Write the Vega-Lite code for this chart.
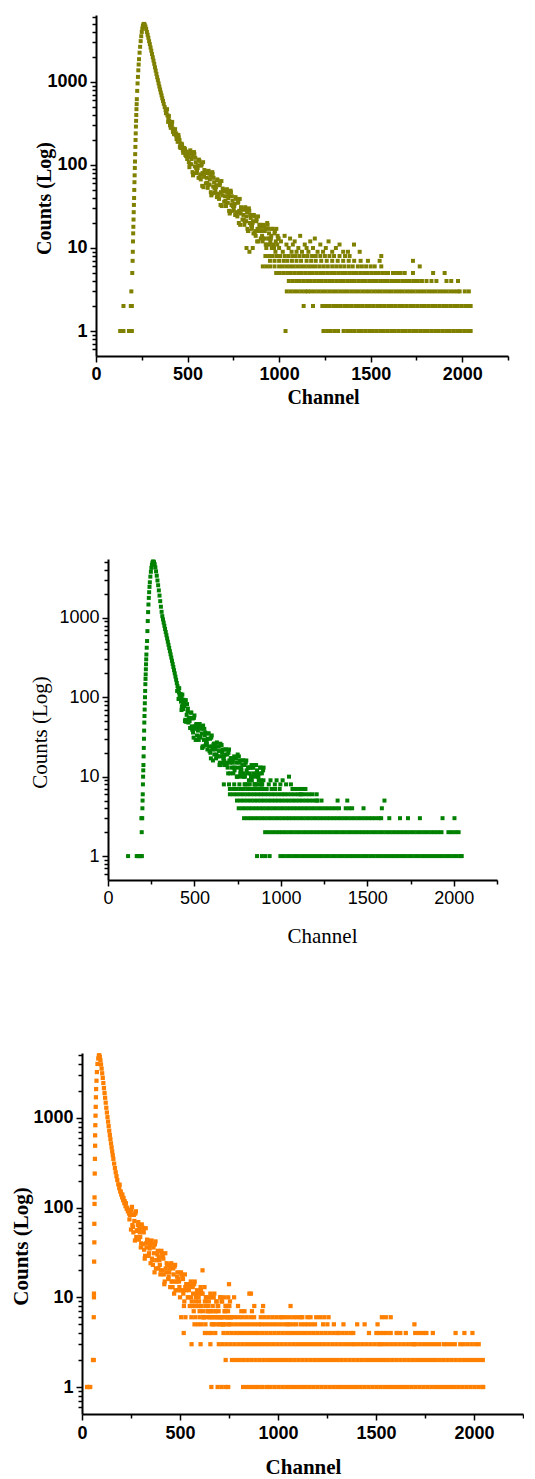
{
  "$schema": "https://vega.github.io/schema/vega-lite/v6.json",
  "background": "white",
  "padding": {"left": 0, "top": 8, "right": 0, "bottom": 0},
  "config": {
    "view": {"stroke": null},
    "axis": {
      "grid": false,
      "domainColor": "black",
      "domainWidth": 2,
      "tickColor": "black",
      "tickWidth": 1.5,
      "labelColor": "black",
      "titleColor": "black",
      "labelFont": "Liberation Sans",
      "titleFont": "Liberation Serif",
      "labelOverlap": false,
      "labelFlush": false,
      "labelBound": false
    }
  },
  "datasets": {
    "olive": [
      {"ch":132,"counts":1},{"ch":140,"counts":1},{"ch":150,"counts":1},{"ch":180,"counts":1},{"ch":188,"counts":1},{"ch":196,"counts":1},
      {"ch":150,"counts":2},{"ch":190,"counts":2},{"ch":196,"counts":2},{"ch":193,"counts":3},
      {"ch":198,"counts":5},{"ch":200,"counts":7},{"ch":201,"counts":9},{"ch":202,"counts":12},{"ch":203,"counts":15},{"ch":204,"counts":18},{"ch":205,"counts":22},{"ch":206,"counts":27},{"ch":207,"counts":33},{"ch":208,"counts":40},{"ch":209,"counts":50},{"ch":210,"counts":62},{"ch":211,"counts":75},{"ch":212,"counts":92},{"ch":213,"counts":110},{"ch":214,"counts":135},{"ch":215,"counts":165},{"ch":216,"counts":200},{"ch":217,"counts":240},{"ch":218,"counts":290},{"ch":219,"counts":340},{"ch":220,"counts":400},{"ch":221,"counts":470},{"ch":222,"counts":540},{"ch":223,"counts":620},{"ch":225,"counts":780},{"ch":227,"counts":960},{"ch":229,"counts":1150},{"ch":231,"counts":1380},{"ch":233,"counts":1620},{"ch":235,"counts":1880},{"ch":238,"counts":2250},{"ch":241,"counts":2650},{"ch":244,"counts":3100},{"ch":247,"counts":3550},{"ch":250,"counts":4000},{"ch":253,"counts":4400},{"ch":256,"counts":4750},{"ch":259,"counts":4950},
      {"ch":262,"counts":5000},{"ch":266,"counts":4900},{"ch":270,"counts":4650},{"ch":274,"counts":4350},{"ch":278,"counts":4000},{"ch":282,"counts":3700},{"ch":286,"counts":3400},{"ch":290,"counts":3100},{"ch":294,"counts":2850},{"ch":298,"counts":2600},{"ch":302,"counts":2380},{"ch":306,"counts":2170},{"ch":310,"counts":1980},{"ch":314,"counts":1810},{"ch":318,"counts":1650},{"ch":322,"counts":1500},{"ch":326,"counts":1370},{"ch":330,"counts":1250},{"ch":334,"counts":1140},{"ch":338,"counts":1050},{"ch":342,"counts":960},{"ch":346,"counts":880},{"ch":350,"counts":810},{"ch":354,"counts":745},{"ch":358,"counts":690},{"ch":362,"counts":635},{"ch":366,"counts":590},{"ch":370,"counts":545},{"ch":375,"counts":500},{"ch":380,"counts":460},{"ch":385,"counts":425},{"ch":390,"counts":395},{"ch":395,"counts":368},{"ch":400,"counts":342},{"ch":406,"counts":318},{"ch":412,"counts":296},{"ch":418,"counts":276},{"ch":424,"counts":258},{"ch":430,"counts":242},{"ch":436,"counts":228},{"ch":442,"counts":214},{"ch":448,"counts":202},{"ch":454,"counts":191},{"ch":460,"counts":180},{"ch":466,"counts":171},{"ch":472,"counts":162},{"ch":478,"counts":154},{"ch":484,"counts":146},{"ch":490,"counts":139},{"ch":496,"counts":132},{"ch":502,"counts":126},
      {"ch":404,"counts":300},{"ch":414,"counts":310},{"ch":426,"counts":235},{"ch":438,"counts":240},{"ch":446,"counts":190},{"ch":452,"counts":215},{"ch":458,"counts":165},{"ch":468,"counts":180},{"ch":474,"counts":150},{"ch":482,"counts":160},{"ch":488,"counts":132},{"ch":494,"counts":145},{"ch":498,"counts":118},
      {"ch":382,"counts":420},{"ch":388,"counts":470},{"ch":394,"counts":330},{"ch":398,"counts":390},{"ch":408,"counts":280},{"ch":416,"counts":330},{"ch":420,"counts":250},{"ch":432,"counts":270},{"ch":440,"counts":205},{"ch":450,"counts":230},{"ch":456,"counts":200},{"ch":462,"counts":160},{"ch":470,"counts":175},{"ch":476,"counts":140},{"ch":486,"counts":155},{"ch":492,"counts":128},{"ch":500,"counts":140},
      {"ch":505,"counts":124},{"ch":510,"counts":94},{"ch":515,"counts":150},{"ch":520,"counts":102},{"ch":525,"counts":130},{"ch":530,"counts":75},{"ch":535,"counts":143},{"ch":540,"counts":96},{"ch":545,"counts":108},{"ch":550,"counts":80},{"ch":555,"counts":92},{"ch":560,"counts":70},{"ch":565,"counts":112},{"ch":570,"counts":77},{"ch":575,"counts":98},{"ch":580,"counts":56},{"ch":585,"counts":108},{"ch":590,"counts":72},{"ch":595,"counts":81},{"ch":600,"counts":60},{"ch":605,"counts":70},{"ch":610,"counts":53},{"ch":615,"counts":85},{"ch":620,"counts":58},{"ch":625,"counts":74},{"ch":630,"counts":43},{"ch":635,"counts":82},{"ch":640,"counts":55},{"ch":645,"counts":62},{"ch":650,"counts":46},{"ch":655,"counts":54},{"ch":660,"counts":41},{"ch":665,"counts":65},{"ch":670,"counts":45},{"ch":675,"counts":57},{"ch":680,"counts":33},{"ch":685,"counts":64},{"ch":690,"counts":43},{"ch":695,"counts":49},{"ch":700,"counts":36},{"ch":705,"counts":42},{"ch":710,"counts":32},{"ch":715,"counts":51},{"ch":720,"counts":35},{"ch":725,"counts":44},{"ch":730,"counts":26},{"ch":735,"counts":49},{"ch":740,"counts":33},{"ch":745,"counts":37},{"ch":750,"counts":28},{"ch":755,"counts":32},{"ch":760,"counts":25},{"ch":765,"counts":39},{"ch":770,"counts":27},{"ch":775,"counts":35},{"ch":780,"counts":20},{"ch":785,"counts":39},{"ch":790,"counts":26},{"ch":795,"counts":29},{"ch":800,"counts":22},{"ch":805,"counts":25},{"ch":810,"counts":19},{"ch":815,"counts":31},{"ch":820,"counts":21},{"ch":825,"counts":27},{"ch":830,"counts":16},{"ch":835,"counts":30},{"ch":840,"counts":20},{"ch":845,"counts":23},{"ch":850,"counts":17},{"ch":855,"counts":20},{"ch":860,"counts":15},{"ch":865,"counts":24},{"ch":870,"counts":16},{"ch":875,"counts":21},{"ch":880,"counts":12},{"ch":885,"counts":24},{"ch":890,"counts":16},{"ch":895,"counts":18},{"ch":900,"counts":13},{"ch":905,"counts":16},{"ch":910,"counts":12},{"ch":915,"counts":19},{"ch":920,"counts":13},{"ch":925,"counts":17},{"ch":930,"counts":10},{"ch":935,"counts":20},{"ch":940,"counts":13},{"ch":945,"counts":15},{"ch":950,"counts":11},{"ch":955,"counts":13},{"ch":960,"counts":10},{"ch":965,"counts":17},{"ch":970,"counts":11},{"ch":975,"counts":15},{"ch":980,"counts":9},{"ch":985,"counts":17},{"ch":990,"counts":11},{"ch":995,"counts":13},{"ch":1000,"counts":10},
      {"ch":502,"counts":142},{"ch":512,"counts":103},{"ch":522,"counts":118},{"ch":532,"counts":79},{"ch":542,"counts":122},{"ch":552,"counts":86},{"ch":562,"counts":116},{"ch":572,"counts":67},{"ch":582,"counts":80},{"ch":592,"counts":87},{"ch":602,"counts":80},{"ch":612,"counts":58},{"ch":622,"counts":67},{"ch":632,"counts":45},{"ch":642,"counts":70},{"ch":652,"counts":50},{"ch":662,"counts":67},{"ch":672,"counts":39},{"ch":682,"counts":47},{"ch":692,"counts":52},{"ch":702,"counts":48},{"ch":712,"counts":35},{"ch":722,"counts":40},{"ch":732,"counts":27},{"ch":742,"counts":42},{"ch":752,"counts":30},{"ch":762,"counts":41},{"ch":772,"counts":24},{"ch":782,"counts":28},{"ch":792,"counts":31},{"ch":802,"counts":29},{"ch":812,"counts":21},{"ch":822,"counts":24},{"ch":832,"counts":16},{"ch":842,"counts":25},{"ch":852,"counts":18},{"ch":862,"counts":25},{"ch":872,"counts":14},{"ch":882,"counts":17},{"ch":892,"counts":19},{"ch":902,"counts":18},{"ch":912,"counts":13},{"ch":922,"counts":16},{"ch":932,"counts":11},{"ch":942,"counts":17},{"ch":952,"counts":12},{"ch":962,"counts":17},{"ch":972,"counts":10},{"ch":982,"counts":12},{"ch":992,"counts":14},
      {"ch":507,"counts":108},{"ch":517,"counts":139},{"ch":527,"counts":82},{"ch":537,"counts":136},{"ch":547,"counts":92},{"ch":557,"counts":99},{"ch":567,"counts":71},{"ch":577,"counts":102},{"ch":587,"counts":54},{"ch":597,"counts":84},{"ch":607,"counts":61},{"ch":617,"counts":79},{"ch":627,"counts":47},{"ch":637,"counts":78},{"ch":647,"counts":53},{"ch":657,"counts":57},{"ch":667,"counts":41},{"ch":677,"counts":60},{"ch":687,"counts":32},{"ch":697,"counts":50},{"ch":707,"counts":37},{"ch":717,"counts":47},{"ch":727,"counts":28},{"ch":737,"counts":47},{"ch":747,"counts":32},{"ch":757,"counts":34},{"ch":767,"counts":25},{"ch":777,"counts":36},{"ch":787,"counts":19},{"ch":797,"counts":30},{"ch":807,"counts":22},{"ch":817,"counts":29},{"ch":827,"counts":17},{"ch":837,"counts":28},{"ch":847,"counts":19},{"ch":857,"counts":21},{"ch":867,"counts":15},{"ch":877,"counts":22},{"ch":887,"counts":12},{"ch":897,"counts":19},{"ch":907,"counts":14},{"ch":917,"counts":18},{"ch":927,"counts":11},{"ch":937,"counts":19},{"ch":947,"counts":13},{"ch":957,"counts":14},{"ch":967,"counts":10},{"ch":977,"counts":16},{"ch":987,"counts":8},{"ch":997,"counts":13},
      {"ch":822,"counts":10},{"ch":838,"counts":9},{"ch":856,"counts":10},
      {"ch":1010,"counts":12},{"ch":1020,"counts":9},{"ch":1030,"counts":14},{"ch":1040,"counts":11},{"ch":1052,"counts":10},{"ch":1060,"counts":13},{"ch":1068,"counts":9},{"ch":1075,"counts":11},{"ch":1085,"counts":12},{"ch":1095,"counts":9},{"ch":1105,"counts":10},{"ch":1115,"counts":14},{"ch":1125,"counts":9},{"ch":1140,"counts":11},{"ch":1150,"counts":10},{"ch":1160,"counts":9},{"ch":1170,"counts":12},{"ch":1185,"counts":10},{"ch":1195,"counts":13},{"ch":1210,"counts":9},{"ch":1225,"counts":11},{"ch":1240,"counts":9},{"ch":1255,"counts":10},{"ch":1270,"counts":12},{"ch":1290,"counts":9},{"ch":1310,"counts":10},{"ch":1330,"counts":11},{"ch":1350,"counts":9},{"ch":1376,"counts":9},{"ch":1409,"counts":11},{"ch":1440,"counts":9},
      {"ch":925,"counts":8},{"ch":945,"counts":8},{"ch":962,"counts":8},{"ch":985,"counts":8},{"ch":1005,"counts":8},{"ch":1030,"counts":8},{"ch":1050,"counts":8},{"ch":1072,"counts":8},{"ch":1090,"counts":8},{"ch":1112,"counts":8},{"ch":1135,"counts":8},{"ch":1155,"counts":8},{"ch":1180,"counts":8},{"ch":1200,"counts":8},{"ch":1225,"counts":8},{"ch":1250,"counts":8},{"ch":1275,"counts":8},{"ch":1300,"counts":8},{"ch":1330,"counts":8},{"ch":1360,"counts":8},{"ch":1385,"counts":8},{"ch":1558,"counts":8},
      {"ch":950,"counts":7},{"ch":975,"counts":7},{"ch":1000,"counts":7},{"ch":1025,"counts":7},{"ch":1045,"counts":7},{"ch":1070,"counts":7},{"ch":1095,"counts":7},{"ch":1120,"counts":7},{"ch":1150,"counts":7},{"ch":1175,"counts":7},{"ch":1200,"counts":7},{"ch":1230,"counts":7},{"ch":1260,"counts":7},{"ch":1290,"counts":7},{"ch":1320,"counts":7},{"ch":1350,"counts":7},{"ch":1380,"counts":7},{"ch":1410,"counts":7},{"ch":1445,"counts":7},{"ch":1485,"counts":7},{"ch":1549,"counts":7},{"ch":1731,"counts":7},
      {"ch":911,"counts":6},{"ch":931,"counts":6},{"ch":951,"counts":6},{"ch":975,"counts":6},{"ch":1000,"counts":6},{"ch":1020,"counts":6},{"ch":1040,"counts":6},{"ch":1060,"counts":6},{"ch":1080,"counts":6},{"ch":1100,"counts":6},{"ch":1120,"counts":6},{"ch":1140,"counts":6},{"ch":1160,"counts":6},{"ch":1180,"counts":6},{"ch":1200,"counts":6},{"ch":1222,"counts":6},{"ch":1244,"counts":6},{"ch":1266,"counts":6},{"ch":1290,"counts":6},{"ch":1312,"counts":6},{"ch":1334,"counts":6},{"ch":1356,"counts":6},{"ch":1380,"counts":6},{"ch":1402,"counts":6},{"ch":1430,"counts":6},{"ch":1452,"counts":6},{"ch":1475,"counts":6},{"ch":1500,"counts":6},{"ch":1522,"counts":6},{"ch":1558,"counts":6},{"ch":1768,"counts":6},
      {"ch":984,"counts":5},{"ch":1004,"counts":5},{"ch":1024,"counts":5},{"ch":1044,"counts":5},{"ch":1064,"counts":5},{"ch":1084,"counts":5},{"ch":1104,"counts":5},{"ch":1124,"counts":5},{"ch":1144,"counts":5},{"ch":1164,"counts":5},{"ch":1184,"counts":5},{"ch":1204,"counts":5},{"ch":1224,"counts":5},{"ch":1244,"counts":5},{"ch":1264,"counts":5},{"ch":1284,"counts":5},{"ch":1304,"counts":5},{"ch":1324,"counts":5},{"ch":1344,"counts":5},{"ch":1364,"counts":5},{"ch":1384,"counts":5},{"ch":1404,"counts":5},{"ch":1424,"counts":5},{"ch":1444,"counts":5},{"ch":1464,"counts":5},{"ch":1484,"counts":5},{"ch":1504,"counts":5},{"ch":1524,"counts":5},{"ch":1544,"counts":5},{"ch":1564,"counts":5},{"ch":1584,"counts":5},{"ch":1595,"counts":5},{"ch":1622,"counts":5},{"ch":1644,"counts":5},{"ch":1664,"counts":5},{"ch":1686,"counts":5},{"ch":1731,"counts":5},{"ch":1841,"counts":5},{"ch":1904,"counts":5},
      {"ch":1053,"counts":4},{"ch":1073,"counts":4},{"ch":1093,"counts":4},{"ch":1113,"counts":4},{"ch":1133,"counts":4},{"ch":1153,"counts":4},{"ch":1173,"counts":4},{"ch":1193,"counts":4},{"ch":1213,"counts":4},{"ch":1233,"counts":4},{"ch":1253,"counts":4},{"ch":1273,"counts":4},{"ch":1293,"counts":4},{"ch":1313,"counts":4},{"ch":1333,"counts":4},{"ch":1353,"counts":4},{"ch":1373,"counts":4},{"ch":1393,"counts":4},{"ch":1413,"counts":4},{"ch":1433,"counts":4},{"ch":1453,"counts":4},{"ch":1473,"counts":4},{"ch":1493,"counts":4},{"ch":1513,"counts":4},{"ch":1533,"counts":4},{"ch":1553,"counts":4},{"ch":1573,"counts":4},{"ch":1593,"counts":4},{"ch":1613,"counts":4},{"ch":1633,"counts":4},{"ch":1653,"counts":4},{"ch":1673,"counts":4},{"ch":1693,"counts":4},{"ch":1713,"counts":4},{"ch":1733,"counts":4},{"ch":1740,"counts":4},{"ch":1758,"counts":4},{"ch":1780,"counts":4},{"ch":1805,"counts":4},{"ch":1832,"counts":4},{"ch":1859,"counts":4},{"ch":1914,"counts":4},{"ch":1940,"counts":4},{"ch":1977,"counts":4},
      {"ch":1042,"counts":3},{"ch":1062,"counts":3},{"ch":1082,"counts":3},{"ch":1102,"counts":3},{"ch":1122,"counts":3},{"ch":1142,"counts":3},{"ch":1157,"counts":3},{"ch":1175,"counts":3},{"ch":1195,"counts":3},{"ch":1215,"counts":3},{"ch":1235,"counts":3},{"ch":1255,"counts":3},{"ch":1275,"counts":3},{"ch":1295,"counts":3},{"ch":1315,"counts":3},{"ch":1335,"counts":3},{"ch":1355,"counts":3},{"ch":1375,"counts":3},{"ch":1395,"counts":3},{"ch":1415,"counts":3},{"ch":1435,"counts":3},{"ch":1455,"counts":3},{"ch":1475,"counts":3},{"ch":1495,"counts":3},{"ch":1515,"counts":3},{"ch":1535,"counts":3},{"ch":1555,"counts":3},{"ch":1575,"counts":3},{"ch":1595,"counts":3},{"ch":1615,"counts":3},{"ch":1635,"counts":3},{"ch":1655,"counts":3},{"ch":1675,"counts":3},{"ch":1695,"counts":3},{"ch":1715,"counts":3},{"ch":1735,"counts":3},{"ch":1755,"counts":3},{"ch":1775,"counts":3},{"ch":1795,"counts":3},{"ch":1815,"counts":3},{"ch":1835,"counts":3},{"ch":1855,"counts":3},{"ch":1875,"counts":3},{"ch":1895,"counts":3},{"ch":1915,"counts":3},{"ch":1935,"counts":3},{"ch":1955,"counts":3},{"ch":1975,"counts":3},{"ch":1986,"counts":3},{"ch":2014,"counts":3},{"ch":2036,"counts":3},
      {"ch":1134,"counts":2},{"ch":1185,"counts":2},{"ch":1236,"counts":2},{"ch":1256,"counts":2},{"ch":1276,"counts":2},{"ch":1296,"counts":2},{"ch":1316,"counts":2},{"ch":1336,"counts":2},{"ch":1356,"counts":2},{"ch":1376,"counts":2},{"ch":1396,"counts":2},{"ch":1416,"counts":2},{"ch":1436,"counts":2},{"ch":1456,"counts":2},{"ch":1476,"counts":2},{"ch":1496,"counts":2},{"ch":1516,"counts":2},{"ch":1536,"counts":2},{"ch":1556,"counts":2},{"ch":1576,"counts":2},{"ch":1596,"counts":2},{"ch":1616,"counts":2},{"ch":1636,"counts":2},{"ch":1656,"counts":2},{"ch":1676,"counts":2},{"ch":1696,"counts":2},{"ch":1716,"counts":2},{"ch":1736,"counts":2},{"ch":1756,"counts":2},{"ch":1776,"counts":2},{"ch":1796,"counts":2},{"ch":1816,"counts":2},{"ch":1836,"counts":2},{"ch":1856,"counts":2},{"ch":1876,"counts":2},{"ch":1896,"counts":2},{"ch":1916,"counts":2},{"ch":1936,"counts":2},{"ch":1956,"counts":2},{"ch":1976,"counts":2},{"ch":1996,"counts":2},{"ch":2016,"counts":2},{"ch":2036,"counts":2},{"ch":2046,"counts":2},
      {"ch":1035,"counts":1},{"ch":1242,"counts":1},{"ch":1262,"counts":1},{"ch":1282,"counts":1},{"ch":1302,"counts":1},{"ch":1322,"counts":1},{"ch":1352,"counts":1},{"ch":1372,"counts":1},{"ch":1392,"counts":1},{"ch":1410,"counts":1},{"ch":1432,"counts":1},{"ch":1452,"counts":1},{"ch":1472,"counts":1},{"ch":1492,"counts":1},{"ch":1512,"counts":1},{"ch":1532,"counts":1},{"ch":1552,"counts":1},{"ch":1572,"counts":1},{"ch":1592,"counts":1},{"ch":1612,"counts":1},{"ch":1632,"counts":1},{"ch":1652,"counts":1},{"ch":1672,"counts":1},{"ch":1692,"counts":1},{"ch":1712,"counts":1},{"ch":1732,"counts":1},{"ch":1752,"counts":1},{"ch":1772,"counts":1},{"ch":1792,"counts":1},{"ch":1812,"counts":1},{"ch":1832,"counts":1},{"ch":1852,"counts":1},{"ch":1872,"counts":1},{"ch":1892,"counts":1},{"ch":1912,"counts":1},{"ch":1932,"counts":1},{"ch":1952,"counts":1},{"ch":1972,"counts":1},{"ch":1992,"counts":1},{"ch":2012,"counts":1},{"ch":2032,"counts":1},{"ch":2046,"counts":1}
    ],
    "green": [
      {"ch":116,"counts":1},{"ch":166,"counts":1},{"ch":174,"counts":1},{"ch":182,"counts":1},{"ch":190,"counts":1},{"ch":196,"counts":1},{"ch":195,"counts":2},{"ch":193,"counts":3},{"ch":198,"counts":3},
      {"ch":199,"counts":4},{"ch":200,"counts":5},{"ch":201,"counts":6},{"ch":202,"counts":8},{"ch":203,"counts":10},{"ch":204,"counts":12},{"ch":205,"counts":14},{"ch":206,"counts":18},{"ch":207,"counts":23},{"ch":208,"counts":30},{"ch":209,"counts":38},{"ch":210,"counts":48},{"ch":211,"counts":58},{"ch":212,"counts":70},{"ch":213,"counts":84},{"ch":214,"counts":100},{"ch":215,"counts":120},{"ch":216,"counts":146},{"ch":217,"counts":170},{"ch":218,"counts":194},{"ch":219,"counts":225},{"ch":220,"counts":260},{"ch":221,"counts":300},{"ch":222,"counts":345},{"ch":224,"counts":420},{"ch":226,"counts":510},{"ch":228,"counts":680},{"ch":230,"counts":910},{"ch":232,"counts":1180},{"ch":234,"counts":1470},{"ch":236,"counts":1780},{"ch":238,"counts":2100},{"ch":240,"counts":2450},{"ch":242,"counts":2800},{"ch":245,"counts":3300},{"ch":248,"counts":3800},{"ch":251,"counts":4250},{"ch":254,"counts":4650},{"ch":257,"counts":4950},{"ch":260,"counts":5100},
      {"ch":263,"counts":5100},{"ch":266,"counts":5010},{"ch":270,"counts":4730},{"ch":274,"counts":4315},{"ch":278,"counts":3845},{"ch":282,"counts":3390},{"ch":286,"counts":2950},{"ch":290,"counts":2570},{"ch":294,"counts":2215},{"ch":298,"counts":1905},{"ch":302,"counts":1620},{"ch":306,"counts":1380},{"ch":310,"counts":1190},{"ch":314,"counts":1050},{"ch":318,"counts":955},{"ch":322,"counts":870},{"ch":326,"counts":794},{"ch":330,"counts":724},{"ch":334,"counts":661},{"ch":338,"counts":603},{"ch":342,"counts":550},{"ch":346,"counts":501},{"ch":350,"counts":457},{"ch":354,"counts":417},{"ch":358,"counts":380},{"ch":362,"counts":347},{"ch":366,"counts":316},{"ch":370,"counts":288},{"ch":374,"counts":263},{"ch":378,"counts":240},{"ch":382,"counts":219},{"ch":386,"counts":200},{"ch":390,"counts":182},{"ch":394,"counts":166},{"ch":398,"counts":151},{"ch":402,"counts":138},{"ch":406,"counts":126},{"ch":410,"counts":115},{"ch":414,"counts":105},{"ch":418,"counts":98},
      {"ch":400,"counts":120},{"ch":408,"counts":95},{"ch":412,"counts":130},{"ch":420,"counts":110},{"ch":422,"counts":88},{"ch":426,"counts":100},{"ch":430,"counts":92},{"ch":434,"counts":80},
      {"ch":420,"counts":95},{"ch":425,"counts":69},{"ch":430,"counts":108},{"ch":435,"counts":71},{"ch":440,"counts":89},{"ch":445,"counts":50},{"ch":450,"counts":92},{"ch":455,"counts":60},{"ch":460,"counts":66},{"ch":465,"counts":48},{"ch":470,"counts":55},{"ch":475,"counts":41},{"ch":480,"counts":64},{"ch":485,"counts":43},{"ch":490,"counts":54},{"ch":495,"counts":31},{"ch":500,"counts":59},{"ch":505,"counts":40},{"ch":510,"counts":45},{"ch":515,"counts":33},{"ch":520,"counts":38},{"ch":525,"counts":29},{"ch":530,"counts":46},{"ch":535,"counts":32},{"ch":540,"counts":40},{"ch":545,"counts":23},{"ch":550,"counts":44},{"ch":555,"counts":29},{"ch":560,"counts":33},{"ch":565,"counts":25},{"ch":570,"counts":28},{"ch":575,"counts":22},{"ch":580,"counts":35},{"ch":585,"counts":24},{"ch":590,"counts":30},{"ch":595,"counts":17},{"ch":600,"counts":33},{"ch":605,"counts":22},{"ch":610,"counts":25},{"ch":615,"counts":19},{"ch":620,"counts":22},{"ch":625,"counts":17},{"ch":630,"counts":27},{"ch":635,"counts":18},{"ch":640,"counts":24},{"ch":645,"counts":14},{"ch":650,"counts":26},{"ch":655,"counts":18},{"ch":660,"counts":20},{"ch":665,"counts":15},{"ch":670,"counts":18},{"ch":675,"counts":14},{"ch":680,"counts":22},{"ch":685,"counts":15},{"ch":690,"counts":19},{"ch":695,"counts":11},{"ch":700,"counts":22},{"ch":705,"counts":15},{"ch":710,"counts":17},{"ch":715,"counts":13},{"ch":720,"counts":15},{"ch":725,"counts":11},{"ch":730,"counts":18},{"ch":735,"counts":13},{"ch":740,"counts":17},{"ch":745,"counts":10},{"ch":750,"counts":19},{"ch":755,"counts":13},{"ch":760,"counts":15},{"ch":765,"counts":11},{"ch":770,"counts":13},{"ch":775,"counts":10},{"ch":780,"counts":16},{"ch":785,"counts":11},{"ch":790,"counts":14},{"ch":795,"counts":8},{"ch":800,"counts":16},{"ch":805,"counts":11},{"ch":810,"counts":13},{"ch":815,"counts":9},{"ch":820,"counts":11},{"ch":825,"counts":9},{"ch":830,"counts":14},{"ch":835,"counts":10},{"ch":840,"counts":13},{"ch":845,"counts":7},{"ch":850,"counts":14},{"ch":855,"counts":10},{"ch":860,"counts":11},{"ch":865,"counts":8},{"ch":870,"counts":10},{"ch":875,"counts":8},{"ch":880,"counts":13},{"ch":885,"counts":9},{"ch":890,"counts":11},{"ch":895,"counts":7},{"ch":900,"counts":13},
      {"ch":422,"counts":104},{"ch":432,"counts":71},{"ch":442,"counts":77},{"ch":452,"counts":49},{"ch":462,"counts":72},{"ch":472,"counts":50},{"ch":482,"counts":64},{"ch":492,"counts":36},{"ch":502,"counts":43},{"ch":512,"counts":46},{"ch":522,"counts":42},{"ch":532,"counts":31},{"ch":542,"counts":35},{"ch":552,"counts":24},{"ch":562,"counts":36},{"ch":572,"counts":26},{"ch":582,"counts":35},{"ch":592,"counts":20},{"ch":602,"counts":24},{"ch":612,"counts":26},{"ch":622,"counts":24},{"ch":632,"counts":18},{"ch":642,"counts":21},{"ch":652,"counts":14},{"ch":662,"counts":22},{"ch":672,"counts":16},{"ch":682,"counts":22},{"ch":692,"counts":13},{"ch":702,"counts":16},{"ch":712,"counts":17},{"ch":722,"counts":16},{"ch":732,"counts":12},{"ch":742,"counts":15},{"ch":752,"counts":10},{"ch":762,"counts":16},{"ch":772,"counts":12},{"ch":782,"counts":16},{"ch":792,"counts":10},{"ch":802,"counts":12},{"ch":812,"counts":13},{"ch":822,"counts":13},{"ch":832,"counts":9},{"ch":842,"counts":11},{"ch":852,"counts":8},{"ch":862,"counts":12},{"ch":872,"counts":9},{"ch":882,"counts":13},{"ch":892,"counts":8},
      {"ch":427,"counts":77},{"ch":437,"counts":93},{"ch":447,"counts":52},{"ch":457,"counts":82},{"ch":467,"counts":53},{"ch":477,"counts":55},{"ch":487,"counts":39},{"ch":497,"counts":55},{"ch":507,"counts":29},{"ch":517,"counts":45},{"ch":527,"counts":32},{"ch":537,"counts":42},{"ch":547,"counts":24},{"ch":557,"counts":40},{"ch":567,"counts":27},{"ch":577,"counts":30},{"ch":587,"counts":21},{"ch":597,"counts":31},{"ch":607,"counts":16},{"ch":617,"counts":26},{"ch":627,"counts":19},{"ch":637,"counts":24},{"ch":647,"counts":15},{"ch":657,"counts":25},{"ch":667,"counts":17},{"ch":677,"counts":19},{"ch":687,"counts":14},{"ch":697,"counts":20},{"ch":707,"counts":11},{"ch":717,"counts":17},{"ch":727,"counts":13},{"ch":737,"counts":17},{"ch":747,"counts":10},{"ch":757,"counts":18},{"ch":767,"counts":12},{"ch":777,"counts":14},{"ch":787,"counts":10},{"ch":797,"counts":15},{"ch":807,"counts":8},{"ch":817,"counts":13},{"ch":827,"counts":10},{"ch":837,"counts":13},{"ch":847,"counts":8},{"ch":857,"counts":14},{"ch":867,"counts":10},{"ch":877,"counts":11},{"ch":887,"counts":8},{"ch":897,"counts":12},
      {"ch":1047,"counts":10},{"ch":899,"counts":9},{"ch":940,"counts":9},{"ch":975,"counts":9},{"ch":1010,"counts":9},
      {"ch":670,"counts":8},{"ch":700,"counts":8},{"ch":730,"counts":8},{"ch":760,"counts":8},{"ch":790,"counts":8},{"ch":820,"counts":8},{"ch":850,"counts":8},{"ch":890,"counts":8},{"ch":930,"counts":8},{"ch":965,"counts":8},{"ch":997,"counts":8},{"ch":1030,"counts":8},{"ch":1058,"counts":8},
      {"ch":705,"counts":7},{"ch":725,"counts":7},{"ch":745,"counts":7},{"ch":765,"counts":7},{"ch":785,"counts":7},{"ch":805,"counts":7},{"ch":825,"counts":7},{"ch":845,"counts":7},{"ch":865,"counts":7},{"ch":885,"counts":7},{"ch":905,"counts":7},{"ch":918,"counts":7},{"ch":946,"counts":7},{"ch":966,"counts":7},{"ch":993,"counts":7},{"ch":1067,"counts":7},{"ch":1087,"counts":7},{"ch":1107,"counts":7},{"ch":1127,"counts":7},{"ch":1142,"counts":7},
      {"ch":705,"counts":6},{"ch":725,"counts":6},{"ch":745,"counts":6},{"ch":765,"counts":6},{"ch":785,"counts":6},{"ch":805,"counts":6},{"ch":825,"counts":6},{"ch":845,"counts":6},{"ch":865,"counts":6},{"ch":885,"counts":6},{"ch":905,"counts":6},{"ch":925,"counts":6},{"ch":945,"counts":6},{"ch":965,"counts":6},{"ch":985,"counts":6},{"ch":1005,"counts":6},{"ch":1021,"counts":6},{"ch":1039,"counts":6},{"ch":1059,"counts":6},{"ch":1079,"counts":6},{"ch":1099,"counts":6},{"ch":1114,"counts":6},{"ch":1123,"counts":6},{"ch":1143,"counts":6},{"ch":1163,"counts":6},{"ch":1183,"counts":6},{"ch":1207,"counts":6},
      {"ch":746,"counts":5},{"ch":766,"counts":5},{"ch":786,"counts":5},{"ch":806,"counts":5},{"ch":826,"counts":5},{"ch":846,"counts":5},{"ch":866,"counts":5},{"ch":886,"counts":5},{"ch":906,"counts":5},{"ch":926,"counts":5},{"ch":946,"counts":5},{"ch":966,"counts":5},{"ch":986,"counts":5},{"ch":1006,"counts":5},{"ch":1026,"counts":5},{"ch":1046,"counts":5},{"ch":1066,"counts":5},{"ch":1086,"counts":5},{"ch":1106,"counts":5},{"ch":1126,"counts":5},{"ch":1146,"counts":5},{"ch":1166,"counts":5},{"ch":1186,"counts":5},{"ch":1206,"counts":5},{"ch":1211,"counts":5},{"ch":1235,"counts":5},{"ch":1328,"counts":5},{"ch":1384,"counts":5},{"ch":1599,"counts":5},
      {"ch":756,"counts":4},{"ch":776,"counts":4},{"ch":796,"counts":4},{"ch":816,"counts":4},{"ch":836,"counts":4},{"ch":856,"counts":4},{"ch":876,"counts":4},{"ch":896,"counts":4},{"ch":916,"counts":4},{"ch":936,"counts":4},{"ch":956,"counts":4},{"ch":976,"counts":4},{"ch":996,"counts":4},{"ch":1016,"counts":4},{"ch":1036,"counts":4},{"ch":1056,"counts":4},{"ch":1076,"counts":4},{"ch":1096,"counts":4},{"ch":1116,"counts":4},{"ch":1136,"counts":4},{"ch":1156,"counts":4},{"ch":1176,"counts":4},{"ch":1196,"counts":4},{"ch":1216,"counts":4},{"ch":1236,"counts":4},{"ch":1256,"counts":4},{"ch":1276,"counts":4},{"ch":1296,"counts":4},{"ch":1316,"counts":4},{"ch":1336,"counts":4},{"ch":1375,"counts":4},{"ch":1395,"counts":4},{"ch":1412,"counts":4},{"ch":1478,"counts":4},{"ch":1584,"counts":4},
      {"ch":787,"counts":3},{"ch":807,"counts":3},{"ch":827,"counts":3},{"ch":847,"counts":3},{"ch":867,"counts":3},{"ch":887,"counts":3},{"ch":907,"counts":3},{"ch":927,"counts":3},{"ch":947,"counts":3},{"ch":967,"counts":3},{"ch":987,"counts":3},{"ch":1007,"counts":3},{"ch":1027,"counts":3},{"ch":1047,"counts":3},{"ch":1067,"counts":3},{"ch":1087,"counts":3},{"ch":1107,"counts":3},{"ch":1127,"counts":3},{"ch":1147,"counts":3},{"ch":1167,"counts":3},{"ch":1187,"counts":3},{"ch":1207,"counts":3},{"ch":1227,"counts":3},{"ch":1247,"counts":3},{"ch":1267,"counts":3},{"ch":1287,"counts":3},{"ch":1307,"counts":3},{"ch":1327,"counts":3},{"ch":1347,"counts":3},{"ch":1367,"counts":3},{"ch":1387,"counts":3},{"ch":1407,"counts":3},{"ch":1427,"counts":3},{"ch":1447,"counts":3},{"ch":1467,"counts":3},{"ch":1487,"counts":3},{"ch":1507,"counts":3},{"ch":1527,"counts":3},{"ch":1547,"counts":3},{"ch":1567,"counts":3},{"ch":1580,"counts":3},{"ch":1627,"counts":3},{"ch":1689,"counts":3},{"ch":1735,"counts":3},{"ch":1804,"counts":3},{"ch":1935,"counts":3},{"ch":2004,"counts":3},
      {"ch":909,"counts":2},{"ch":929,"counts":2},{"ch":949,"counts":2},{"ch":969,"counts":2},{"ch":989,"counts":2},{"ch":1009,"counts":2},{"ch":1029,"counts":2},{"ch":1049,"counts":2},{"ch":1069,"counts":2},{"ch":1089,"counts":2},{"ch":1109,"counts":2},{"ch":1129,"counts":2},{"ch":1149,"counts":2},{"ch":1169,"counts":2},{"ch":1189,"counts":2},{"ch":1209,"counts":2},{"ch":1229,"counts":2},{"ch":1249,"counts":2},{"ch":1269,"counts":2},{"ch":1289,"counts":2},{"ch":1309,"counts":2},{"ch":1329,"counts":2},{"ch":1349,"counts":2},{"ch":1369,"counts":2},{"ch":1389,"counts":2},{"ch":1409,"counts":2},{"ch":1429,"counts":2},{"ch":1449,"counts":2},{"ch":1469,"counts":2},{"ch":1489,"counts":2},{"ch":1509,"counts":2},{"ch":1529,"counts":2},{"ch":1549,"counts":2},{"ch":1569,"counts":2},{"ch":1589,"counts":2},{"ch":1609,"counts":2},{"ch":1629,"counts":2},{"ch":1649,"counts":2},{"ch":1669,"counts":2},{"ch":1689,"counts":2},{"ch":1709,"counts":2},{"ch":1729,"counts":2},{"ch":1749,"counts":2},{"ch":1769,"counts":2},{"ch":1789,"counts":2},{"ch":1809,"counts":2},{"ch":1829,"counts":2},{"ch":1849,"counts":2},{"ch":1869,"counts":2},{"ch":1889,"counts":2},{"ch":1909,"counts":2},{"ch":1929,"counts":2},{"ch":1969,"counts":2},{"ch":1989,"counts":2},{"ch":2009,"counts":2},{"ch":2028,"counts":2},
      {"ch":862,"counts":1},{"ch":890,"counts":1},{"ch":910,"counts":1},{"ch":935,"counts":1},{"ch":997,"counts":1},{"ch":1017,"counts":1},{"ch":1037,"counts":1},{"ch":1057,"counts":1},{"ch":1077,"counts":1},{"ch":1097,"counts":1},{"ch":1117,"counts":1},{"ch":1137,"counts":1},{"ch":1157,"counts":1},{"ch":1177,"counts":1},{"ch":1197,"counts":1},{"ch":1217,"counts":1},{"ch":1237,"counts":1},{"ch":1257,"counts":1},{"ch":1277,"counts":1},{"ch":1297,"counts":1},{"ch":1317,"counts":1},{"ch":1337,"counts":1},{"ch":1357,"counts":1},{"ch":1377,"counts":1},{"ch":1397,"counts":1},{"ch":1417,"counts":1},{"ch":1437,"counts":1},{"ch":1457,"counts":1},{"ch":1477,"counts":1},{"ch":1497,"counts":1},{"ch":1517,"counts":1},{"ch":1537,"counts":1},{"ch":1557,"counts":1},{"ch":1577,"counts":1},{"ch":1597,"counts":1},{"ch":1617,"counts":1},{"ch":1637,"counts":1},{"ch":1657,"counts":1},{"ch":1677,"counts":1},{"ch":1697,"counts":1},{"ch":1717,"counts":1},{"ch":1737,"counts":1},{"ch":1757,"counts":1},{"ch":1777,"counts":1},{"ch":1797,"counts":1},{"ch":1817,"counts":1},{"ch":1837,"counts":1},{"ch":1857,"counts":1},{"ch":1877,"counts":1},{"ch":1897,"counts":1},{"ch":1917,"counts":1},{"ch":1937,"counts":1},{"ch":1957,"counts":1},{"ch":1977,"counts":1},{"ch":1997,"counts":1},{"ch":2017,"counts":1},{"ch":2037,"counts":1},{"ch":2046,"counts":1}
    ],
    "orange": [
      {"ch":26,"counts":1},{"ch":34,"counts":1},{"ch":42,"counts":1},{"ch":56,"counts":2},{"ch":60,"counts":2},
      {"ch":60,"counts":6},{"ch":61,"counts":10},{"ch":61,"counts":11},{"ch":62,"counts":25},{"ch":63,"counts":41},{"ch":63,"counts":66},{"ch":64,"counts":110},{"ch":64,"counts":130},{"ch":65,"counts":240},{"ch":66,"counts":350},{"ch":67,"counts":490},{"ch":67,"counts":640},{"ch":68,"counts":830},{"ch":69,"counts":1060},{"ch":70,"counts":1330},{"ch":71,"counts":1700},{"ch":72,"counts":2100},{"ch":74,"counts":2600},{"ch":76,"counts":3250},{"ch":79,"counts":4000},{"ch":83,"counts":4600},{"ch":86,"counts":4950},
      {"ch":88,"counts":5000},{"ch":91,"counts":4800},{"ch":94,"counts":4400},{"ch":97,"counts":3950},{"ch":100,"counts":3550},{"ch":103,"counts":3150},{"ch":106,"counts":2800},{"ch":109,"counts":2450},{"ch":112,"counts":2150},{"ch":115,"counts":1900},{"ch":118,"counts":1680},{"ch":121,"counts":1480},{"ch":124,"counts":1300},{"ch":127,"counts":1150},{"ch":130,"counts":1020},{"ch":133,"counts":910},{"ch":136,"counts":810},{"ch":139,"counts":720},{"ch":142,"counts":645},{"ch":145,"counts":580},{"ch":148,"counts":520},{"ch":151,"counts":470},{"ch":154,"counts":425},{"ch":157,"counts":385},{"ch":160,"counts":350},{"ch":164,"counts":310},{"ch":168,"counts":276},{"ch":172,"counts":248},{"ch":176,"counts":224},{"ch":180,"counts":203},{"ch":185,"counts":182},{"ch":190,"counts":165},{"ch":195,"counts":152},{"ch":200,"counts":140},{"ch":205,"counts":130},{"ch":210,"counts":121},{"ch":216,"counts":112},{"ch":222,"counts":104},{"ch":228,"counts":97},{"ch":234,"counts":91},{"ch":240,"counts":86},
      {"ch":192,"counts":180},{"ch":198,"counts":150},{"ch":206,"counts":140},{"ch":212,"counts":128},{"ch":218,"counts":118},{"ch":224,"counts":112},{"ch":230,"counts":100},{"ch":236,"counts":95},
      {"ch":245,"counts":83},{"ch":250,"counts":57},{"ch":255,"counts":102},{"ch":260,"counts":61},{"ch":265,"counts":83},{"ch":270,"counts":43},{"ch":275,"counts":91},{"ch":280,"counts":55},{"ch":285,"counts":64},{"ch":290,"counts":44},{"ch":295,"counts":53},{"ch":300,"counts":36},{"ch":305,"counts":65},{"ch":310,"counts":39},{"ch":315,"counts":53},{"ch":320,"counts":27},{"ch":325,"counts":59},{"ch":330,"counts":36},{"ch":335,"counts":42},{"ch":340,"counts":29},{"ch":345,"counts":35},{"ch":350,"counts":24},{"ch":355,"counts":43},{"ch":360,"counts":26},{"ch":365,"counts":36},{"ch":370,"counts":19},{"ch":375,"counts":42},{"ch":380,"counts":26},{"ch":385,"counts":30},{"ch":390,"counts":21},{"ch":395,"counts":26},{"ch":400,"counts":18},{"ch":405,"counts":33},{"ch":410,"counts":20},{"ch":415,"counts":27},{"ch":420,"counts":14},{"ch":425,"counts":31},{"ch":430,"counts":19},{"ch":435,"counts":23},{"ch":440,"counts":16},{"ch":445,"counts":19},{"ch":450,"counts":13},{"ch":455,"counts":24},{"ch":460,"counts":15},{"ch":465,"counts":21},{"ch":470,"counts":11},{"ch":475,"counts":23},{"ch":480,"counts":15},{"ch":485,"counts":17},{"ch":490,"counts":12},{"ch":495,"counts":15},{"ch":500,"counts":10},{"ch":505,"counts":19},{"ch":510,"counts":12},{"ch":515,"counts":16},{"ch":520,"counts":8},{"ch":525,"counts":18},{"ch":530,"counts":12},{"ch":535,"counts":14},{"ch":540,"counts":10},{"ch":545,"counts":12},{"ch":550,"counts":8},{"ch":555,"counts":15},{"ch":560,"counts":9},{"ch":565,"counts":13},{"ch":570,"counts":7},{"ch":575,"counts":15},{"ch":580,"counts":9},{"ch":585,"counts":11},{"ch":590,"counts":8},{"ch":595,"counts":10},{"ch":600,"counts":7},{"ch":605,"counts":13},{"ch":610,"counts":8},{"ch":615,"counts":11},{"ch":620,"counts":6},{"ch":625,"counts":13},{"ch":630,"counts":8},{"ch":635,"counts":10},{"ch":640,"counts":7},{"ch":645,"counts":8},{"ch":650,"counts":6},{"ch":655,"counts":11},{"ch":660,"counts":7},{"ch":665,"counts":10},{"ch":670,"counts":5},{"ch":675,"counts":11},{"ch":680,"counts":7},{"ch":685,"counts":9},{"ch":690,"counts":6},{"ch":695,"counts":8},{"ch":700,"counts":5},{"ch":705,"counts":10},{"ch":710,"counts":6},{"ch":715,"counts":9},{"ch":720,"counts":5},{"ch":725,"counts":10},{"ch":730,"counts":7},{"ch":735,"counts":8},{"ch":740,"counts":6},{"ch":745,"counts":7},{"ch":750,"counts":5},{"ch":755,"counts":9},{"ch":760,"counts":6},
      {"ch":247,"counts":91},{"ch":257,"counts":64},{"ch":267,"counts":71},{"ch":277,"counts":47},{"ch":287,"counts":69},{"ch":297,"counts":47},{"ch":307,"counts":61},{"ch":317,"counts":34},{"ch":327,"counts":40},{"ch":337,"counts":43},{"ch":347,"counts":38},{"ch":357,"counts":27},{"ch":367,"counts":31},{"ch":377,"counts":21},{"ch":387,"counts":33},{"ch":397,"counts":23},{"ch":407,"counts":31},{"ch":417,"counts":18},{"ch":427,"counts":21},{"ch":437,"counts":23},{"ch":447,"counts":21},{"ch":457,"counts":15},{"ch":467,"counts":18},{"ch":477,"counts":12},{"ch":487,"counts":19},{"ch":497,"counts":13},{"ch":507,"counts":18},{"ch":517,"counts":11},{"ch":527,"counts":13},{"ch":537,"counts":14},{"ch":547,"counts":13},{"ch":557,"counts":10},{"ch":567,"counts":11},{"ch":577,"counts":8},{"ch":587,"counts":12},{"ch":597,"counts":9},{"ch":607,"counts":12},{"ch":617,"counts":7},{"ch":627,"counts":9},{"ch":637,"counts":10},{"ch":647,"counts":9},{"ch":657,"counts":7},{"ch":667,"counts":8},{"ch":677,"counts":6},{"ch":687,"counts":9},{"ch":697,"counts":7},{"ch":707,"counts":10},{"ch":717,"counts":6},{"ch":727,"counts":7},{"ch":737,"counts":8},{"ch":747,"counts":8},{"ch":757,"counts":6},
      {"ch":242,"counts":74},{"ch":252,"counts":93},{"ch":262,"counts":53},{"ch":272,"counts":86},{"ch":282,"counts":56},{"ch":292,"counts":58},{"ch":302,"counts":40},{"ch":312,"counts":57},{"ch":322,"counts":29},{"ch":332,"counts":44},{"ch":342,"counts":31},{"ch":352,"counts":40},{"ch":362,"counts":23},{"ch":372,"counts":39},{"ch":382,"counts":26},{"ch":392,"counts":28},{"ch":402,"counts":20},{"ch":412,"counts":29},{"ch":422,"counts":15},{"ch":432,"counts":24},{"ch":442,"counts":17},{"ch":452,"counts":22},{"ch":462,"counts":13},{"ch":472,"counts":22},{"ch":482,"counts":15},{"ch":492,"counts":16},{"ch":502,"counts":12},{"ch":512,"counts":17},{"ch":522,"counts":9},{"ch":532,"counts":14},{"ch":542,"counts":10},{"ch":552,"counts":14},{"ch":562,"counts":8},{"ch":572,"counts":14},{"ch":582,"counts":10},{"ch":592,"counts":11},{"ch":602,"counts":8},{"ch":612,"counts":11},{"ch":622,"counts":6},{"ch":632,"counts":10},{"ch":642,"counts":7},{"ch":652,"counts":10},{"ch":662,"counts":6},{"ch":672,"counts":10},{"ch":682,"counts":7},{"ch":692,"counts":8},{"ch":702,"counts":6},{"ch":712,"counts":9},{"ch":722,"counts":5},{"ch":732,"counts":8},{"ch":742,"counts":6},{"ch":752,"counts":8},
      {"ch":615,"counts":20},{"ch":750,"counts":14},{"ch":854,"counts":11},{"ch":862,"counts":11},{"ch":746,"counts":10},{"ch":776,"counts":10},{"ch":796,"counts":8},{"ch":879,"counts":8},{"ch":924,"counts":8},{"ch":1064,"counts":8},{"ch":813,"counts":7},{"ch":829,"counts":7},{"ch":867,"counts":7},{"ch":920,"counts":7},
      {"ch":506,"counts":6},{"ch":528,"counts":6},{"ch":558,"counts":6},{"ch":578,"counts":6},{"ch":600,"counts":6},{"ch":620,"counts":6},{"ch":640,"counts":6},{"ch":660,"counts":6},{"ch":680,"counts":6},{"ch":700,"counts":6},{"ch":720,"counts":6},{"ch":740,"counts":6},{"ch":760,"counts":6},{"ch":780,"counts":6},{"ch":800,"counts":6},{"ch":820,"counts":6},{"ch":840,"counts":6},{"ch":860,"counts":6},{"ch":878,"counts":6},{"ch":912,"counts":6},{"ch":932,"counts":6},{"ch":952,"counts":6},{"ch":972,"counts":6},{"ch":992,"counts":6},{"ch":1012,"counts":6},{"ch":1022,"counts":6},{"ch":1040,"counts":6},{"ch":1060,"counts":6},{"ch":1080,"counts":6},{"ch":1098,"counts":6},{"ch":1116,"counts":6},{"ch":1124,"counts":6},{"ch":1150,"counts":6},{"ch":1166,"counts":6},{"ch":1195,"counts":6},{"ch":1215,"counts":6},{"ch":1236,"counts":6},{"ch":1258,"counts":6},{"ch":1530,"counts":6},{"ch":1550,"counts":6},{"ch":1575,"counts":6},
      {"ch":574,"counts":5},{"ch":592,"counts":5},{"ch":610,"counts":5},{"ch":630,"counts":5},{"ch":662,"counts":5},{"ch":682,"counts":5},{"ch":702,"counts":5},{"ch":722,"counts":5},{"ch":742,"counts":5},{"ch":762,"counts":5},{"ch":782,"counts":5},{"ch":802,"counts":5},{"ch":822,"counts":5},{"ch":842,"counts":5},{"ch":862,"counts":5},{"ch":882,"counts":5},{"ch":902,"counts":5},{"ch":915,"counts":5},{"ch":934,"counts":5},{"ch":954,"counts":5},{"ch":974,"counts":5},{"ch":994,"counts":5},{"ch":1014,"counts":5},{"ch":1034,"counts":5},{"ch":1049,"counts":5},{"ch":1058,"counts":5},{"ch":1076,"counts":5},{"ch":1094,"counts":5},{"ch":1118,"counts":5},{"ch":1136,"counts":5},{"ch":1152,"counts":5},{"ch":1170,"counts":5},{"ch":1189,"counts":5},{"ch":1230,"counts":5},{"ch":1252,"counts":5},{"ch":1285,"counts":5},{"ch":1334,"counts":5},{"ch":1404,"counts":5},{"ch":1442,"counts":5},{"ch":1508,"counts":5},{"ch":1696,"counts":5},
      {"ch":519,"counts":4},{"ch":627,"counts":4},{"ch":645,"counts":4},{"ch":660,"counts":4},{"ch":680,"counts":4},{"ch":722,"counts":4},{"ch":742,"counts":4},{"ch":762,"counts":4},{"ch":782,"counts":4},{"ch":802,"counts":4},{"ch":822,"counts":4},{"ch":842,"counts":4},{"ch":862,"counts":4},{"ch":882,"counts":4},{"ch":902,"counts":4},{"ch":922,"counts":4},{"ch":942,"counts":4},{"ch":962,"counts":4},{"ch":982,"counts":4},{"ch":1002,"counts":4},{"ch":1022,"counts":4},{"ch":1042,"counts":4},{"ch":1062,"counts":4},{"ch":1082,"counts":4},{"ch":1102,"counts":4},{"ch":1122,"counts":4},{"ch":1142,"counts":4},{"ch":1162,"counts":4},{"ch":1182,"counts":4},{"ch":1202,"counts":4},{"ch":1222,"counts":4},{"ch":1242,"counts":4},{"ch":1262,"counts":4},{"ch":1282,"counts":4},{"ch":1302,"counts":4},{"ch":1310,"counts":4},{"ch":1330,"counts":4},{"ch":1350,"counts":4},{"ch":1370,"counts":4},{"ch":1384,"counts":4},{"ch":1464,"counts":4},{"ch":1502,"counts":4},{"ch":1517,"counts":4},{"ch":1535,"counts":4},{"ch":1555,"counts":4},{"ch":1575,"counts":4},{"ch":1605,"counts":4},{"ch":1624,"counts":4},{"ch":1652,"counts":4},{"ch":1700,"counts":4},{"ch":1720,"counts":4},{"ch":1740,"counts":4},{"ch":1757,"counts":4},{"ch":1790,"counts":4},{"ch":1906,"counts":4},{"ch":1951,"counts":4},{"ch":1992,"counts":4},
      {"ch":559,"counts":3},{"ch":605,"counts":3},{"ch":655,"counts":3},{"ch":698,"counts":3},{"ch":718,"counts":3},{"ch":738,"counts":3},{"ch":758,"counts":3},{"ch":778,"counts":3},{"ch":798,"counts":3},{"ch":818,"counts":3},{"ch":838,"counts":3},{"ch":858,"counts":3},{"ch":878,"counts":3},{"ch":898,"counts":3},{"ch":918,"counts":3},{"ch":938,"counts":3},{"ch":958,"counts":3},{"ch":978,"counts":3},{"ch":998,"counts":3},{"ch":1018,"counts":3},{"ch":1038,"counts":3},{"ch":1058,"counts":3},{"ch":1078,"counts":3},{"ch":1098,"counts":3},{"ch":1118,"counts":3},{"ch":1138,"counts":3},{"ch":1158,"counts":3},{"ch":1178,"counts":3},{"ch":1198,"counts":3},{"ch":1218,"counts":3},{"ch":1238,"counts":3},{"ch":1258,"counts":3},{"ch":1278,"counts":3},{"ch":1298,"counts":3},{"ch":1318,"counts":3},{"ch":1338,"counts":3},{"ch":1358,"counts":3},{"ch":1378,"counts":3},{"ch":1392,"counts":3},{"ch":1412,"counts":3},{"ch":1432,"counts":3},{"ch":1452,"counts":3},{"ch":1472,"counts":3},{"ch":1492,"counts":3},{"ch":1512,"counts":3},{"ch":1523,"counts":3},{"ch":1540,"counts":3},{"ch":1560,"counts":3},{"ch":1580,"counts":3},{"ch":1600,"counts":3},{"ch":1620,"counts":3},{"ch":1640,"counts":3},{"ch":1660,"counts":3},{"ch":1680,"counts":3},{"ch":1693,"counts":3},{"ch":1701,"counts":3},{"ch":1721,"counts":3},{"ch":1741,"counts":3},{"ch":1761,"counts":3},{"ch":1781,"counts":3},{"ch":1801,"counts":3},{"ch":1821,"counts":3},{"ch":1845,"counts":3},{"ch":1862,"counts":3},{"ch":1882,"counts":3},{"ch":1902,"counts":3},{"ch":1930,"counts":3},{"ch":1947,"counts":3},{"ch":1967,"counts":3},{"ch":1987,"counts":3},{"ch":2007,"counts":3},{"ch":2024,"counts":3},
      {"ch":733,"counts":2},{"ch":765,"counts":2},{"ch":785,"counts":2},{"ch":805,"counts":2},{"ch":825,"counts":2},{"ch":845,"counts":2},{"ch":865,"counts":2},{"ch":885,"counts":2},{"ch":905,"counts":2},{"ch":925,"counts":2},{"ch":945,"counts":2},{"ch":965,"counts":2},{"ch":985,"counts":2},{"ch":1005,"counts":2},{"ch":1025,"counts":2},{"ch":1045,"counts":2},{"ch":1065,"counts":2},{"ch":1085,"counts":2},{"ch":1105,"counts":2},{"ch":1125,"counts":2},{"ch":1145,"counts":2},{"ch":1165,"counts":2},{"ch":1185,"counts":2},{"ch":1205,"counts":2},{"ch":1225,"counts":2},{"ch":1245,"counts":2},{"ch":1265,"counts":2},{"ch":1285,"counts":2},{"ch":1305,"counts":2},{"ch":1325,"counts":2},{"ch":1345,"counts":2},{"ch":1365,"counts":2},{"ch":1385,"counts":2},{"ch":1405,"counts":2},{"ch":1425,"counts":2},{"ch":1445,"counts":2},{"ch":1465,"counts":2},{"ch":1485,"counts":2},{"ch":1505,"counts":2},{"ch":1525,"counts":2},{"ch":1545,"counts":2},{"ch":1565,"counts":2},{"ch":1585,"counts":2},{"ch":1605,"counts":2},{"ch":1625,"counts":2},{"ch":1645,"counts":2},{"ch":1665,"counts":2},{"ch":1685,"counts":2},{"ch":1705,"counts":2},{"ch":1725,"counts":2},{"ch":1745,"counts":2},{"ch":1765,"counts":2},{"ch":1785,"counts":2},{"ch":1805,"counts":2},{"ch":1825,"counts":2},{"ch":1845,"counts":2},{"ch":1865,"counts":2},{"ch":1885,"counts":2},{"ch":1905,"counts":2},{"ch":1925,"counts":2},{"ch":1945,"counts":2},{"ch":1965,"counts":2},{"ch":1985,"counts":2},{"ch":2005,"counts":2},{"ch":2025,"counts":2},{"ch":2045,"counts":2},
      {"ch":660,"counts":1},{"ch":692,"counts":1},{"ch":712,"counts":1},{"ch":732,"counts":1},{"ch":746,"counts":1},{"ch":822,"counts":1},{"ch":842,"counts":1},{"ch":862,"counts":1},{"ch":882,"counts":1},{"ch":902,"counts":1},{"ch":922,"counts":1},{"ch":944,"counts":1},{"ch":962,"counts":1},{"ch":982,"counts":1},{"ch":1002,"counts":1},{"ch":1022,"counts":1},{"ch":1042,"counts":1},{"ch":1062,"counts":1},{"ch":1082,"counts":1},{"ch":1102,"counts":1},{"ch":1122,"counts":1},{"ch":1142,"counts":1},{"ch":1162,"counts":1},{"ch":1182,"counts":1},{"ch":1202,"counts":1},{"ch":1222,"counts":1},{"ch":1242,"counts":1},{"ch":1262,"counts":1},{"ch":1282,"counts":1},{"ch":1302,"counts":1},{"ch":1322,"counts":1},{"ch":1342,"counts":1},{"ch":1362,"counts":1},{"ch":1382,"counts":1},{"ch":1402,"counts":1},{"ch":1422,"counts":1},{"ch":1442,"counts":1},{"ch":1462,"counts":1},{"ch":1482,"counts":1},{"ch":1502,"counts":1},{"ch":1522,"counts":1},{"ch":1542,"counts":1},{"ch":1562,"counts":1},{"ch":1582,"counts":1},{"ch":1602,"counts":1},{"ch":1622,"counts":1},{"ch":1642,"counts":1},{"ch":1662,"counts":1},{"ch":1682,"counts":1},{"ch":1702,"counts":1},{"ch":1722,"counts":1},{"ch":1742,"counts":1},{"ch":1762,"counts":1},{"ch":1782,"counts":1},{"ch":1802,"counts":1},{"ch":1822,"counts":1},{"ch":1842,"counts":1},{"ch":1862,"counts":1},{"ch":1882,"counts":1},{"ch":1902,"counts":1},{"ch":1922,"counts":1},{"ch":1942,"counts":1},{"ch":1962,"counts":1},{"ch":1982,"counts":1},{"ch":2002,"counts":1},{"ch":2022,"counts":1},{"ch":2042,"counts":1},{"ch":2047,"counts":1}
    ]
  },
  "spacing": 146,
  "vconcat": [
    {
      "spacing": 0,
      "hconcat": [
        {"width": 34, "height": 10, "data": {"values": [{"blank": ""}]}, "mark": {"type": "text"}, "encoding": {"text": {"field": "blank"}}},
        {
          "width": 412,
          "height": 341,
          "data": {"name": "olive"},
          "mark": {"type": "square", "size": 16, "color": "#808000", "opacity": 1},
          "encoding": {
            "x": {
              "field": "ch", "type": "quantitative",
              "scale": {"domain": [0, 2250], "nice": false, "zero": false},
              "axis": {
                "title": "Channel",
                "values": [0, 250, 500, 750, 1000, 1250, 1500, 1750, 2000, 2250],
                "labelExpr": "datum.value % 500 === 0 ? format(datum.value, 'd') : ''",
                "tickSize": {"condition": {"test": "datum.value % 500 === 0", "value": 6}, "value": 4},
                "labelFontSize": 18, "labelFontWeight": "bold", "labelPadding": 3,
                "titleFontSize": 20, "titleFontWeight": "bold", "titlePadding": 4,
                "titleX": 227, "minExtent": 27, "maxExtent": 27
              }
            },
            "y": {
              "field": "counts", "type": "quantitative",
              "scale": {"type": "log", "domain": [0.5, 6400], "nice": false},
              "axis": {
                "title": "Counts (Log)",
                "values": [0.6, 0.7, 0.8, 0.9, 1, 2, 3, 4, 5, 6, 7, 8, 9, 10, 20, 30, 40, 50, 60, 70, 80, 90, 100, 200, 300, 400, 500, 600, 700, 800, 900, 1000, 2000, 3000, 4000, 5000, 6000],
                "labelExpr": "(datum.value === 1 || datum.value === 10 || datum.value === 100 || datum.value === 1000) ? format(datum.value, 'd') : ''",
                "tickSize": {"condition": {"test": "datum.value === 1 || datum.value === 10 || datum.value === 100 || datum.value === 1000", "value": 6}, "value": 4},
                "labelFontSize": 18, "labelFontWeight": "bold", "labelPadding": 3,
                "titleFontSize": 20, "titleFontWeight": "bold", "titlePadding": 3.5,
                "titleY": 183, "minExtent": 38, "maxExtent": 38
              }
            }
          }
        }
      ]
    },
    {
      "spacing": 100,
      "vconcat": [
        {
          "spacing": 0,
          "hconcat": [
            {"width": 29, "height": 10, "data": {"values": [{"blank": ""}]}, "mark": {"type": "text"}, "encoding": {"text": {"field": "blank"}}},
            {
              "width": 389,
              "height": 321,
              "data": {"name": "green"},
              "mark": {"type": "square", "size": 16, "color": "#008000", "opacity": 1},
              "encoding": {
                "x": {
                  "field": "ch", "type": "quantitative",
                  "scale": {"domain": [0, 2250], "nice": false, "zero": false},
                  "axis": {
                    "title": "Channel",
                    "values": [0, 250, 500, 750, 1000, 1250, 1500, 1750, 2000, 2250],
                    "labelExpr": "datum.value % 500 === 0 ? format(datum.value, 'd') : ''",
                    "tickSize": {"condition": {"test": "datum.value % 500 === 0", "value": 6}, "value": 4},
                    "labelFontSize": 18, "labelFontWeight": "normal", "labelPadding": 3,
                    "titleFontSize": 21, "titleFontWeight": "normal", "titlePadding": 18,
                    "titleX": 214, "minExtent": 27, "maxExtent": 27
                  }
                },
                "y": {
                  "field": "counts", "type": "quantitative",
                  "scale": {"type": "log", "domain": [0.5, 5500], "nice": false},
                  "axis": {
                    "title": "Counts (Log)",
                    "values": [0.6, 0.7, 0.8, 0.9, 1, 2, 3, 4, 5, 6, 7, 8, 9, 10, 20, 30, 40, 50, 60, 70, 80, 90, 100, 200, 300, 400, 500, 600, 700, 800, 900, 1000, 2000, 3000, 4000, 5000],
                    "labelExpr": "(datum.value === 1 || datum.value === 10 || datum.value === 100 || datum.value === 1000) ? format(datum.value, 'd') : ''",
                    "tickSize": {"condition": {"test": "datum.value === 1 || datum.value === 10 || datum.value === 100 || datum.value === 1000", "value": 6}, "value": 4},
                    "labelFontSize": 18, "labelFontWeight": "normal", "labelPadding": 3,
                    "titleFontSize": 21, "titleFontWeight": "normal", "titlePadding": 10.5,
                    "titleY": 173, "minExtent": 47, "maxExtent": 47
                  }
                }
              }
            }
          ]
        },
        {
          "spacing": 0,
          "hconcat": [
            {"width": 10, "height": 10, "data": {"values": [{"blank": ""}]}, "mark": {"type": "text"}, "encoding": {"text": {"field": "blank"}}},
            {
              "width": 441,
              "height": 361,
              "data": {"name": "orange"},
              "mark": {"type": "square", "size": 18, "color": "#FF8000", "opacity": 1},
              "encoding": {
                "x": {
                  "field": "ch", "type": "quantitative",
                  "scale": {"domain": [0, 2250], "nice": false, "zero": false},
                  "axis": {
                    "title": "Channel",
                    "values": [0, 250, 500, 750, 1000, 1250, 1500, 1750, 2000, 2250],
                    "labelExpr": "datum.value % 500 === 0 ? format(datum.value, 'd') : ''",
                    "tickSize": {"condition": {"test": "datum.value % 500 === 0", "value": 6}, "value": 4},
                    "labelFontSize": 18, "labelFontWeight": "bold", "labelPadding": 4,
                    "titleFontSize": 21, "titleFontWeight": "bold", "titlePadding": 15,
                    "titleX": 221, "minExtent": 27, "maxExtent": 27
                  }
                },
                "y": {
                  "field": "counts", "type": "quantitative",
                  "scale": {"type": "log", "domain": [0.5, 5300], "nice": false},
                  "axis": {
                    "title": "Counts (Log)",
                    "values": [0.6, 0.7, 0.8, 0.9, 1, 2, 3, 4, 5, 6, 7, 8, 9, 10, 20, 30, 40, 50, 60, 70, 80, 90, 100, 200, 300, 400, 500, 600, 700, 800, 900, 1000, 2000, 3000, 4000, 5000],
                    "labelExpr": "(datum.value === 1 || datum.value === 10 || datum.value === 100 || datum.value === 1000) ? format(datum.value, 'd') : ''",
                    "tickSize": {"condition": {"test": "datum.value === 1 || datum.value === 10 || datum.value === 100 || datum.value === 1000", "value": 6}, "value": 4},
                    "labelFontSize": 18, "labelFontWeight": "bold", "labelPadding": 3,
                    "titleFontSize": 21, "titleFontWeight": "bold", "titlePadding": 6,
                    "titleY": 193, "minExtent": 45, "maxExtent": 45
                  }
                }
              }
            }
          ]
        }
      ]
    }
  ]
}
